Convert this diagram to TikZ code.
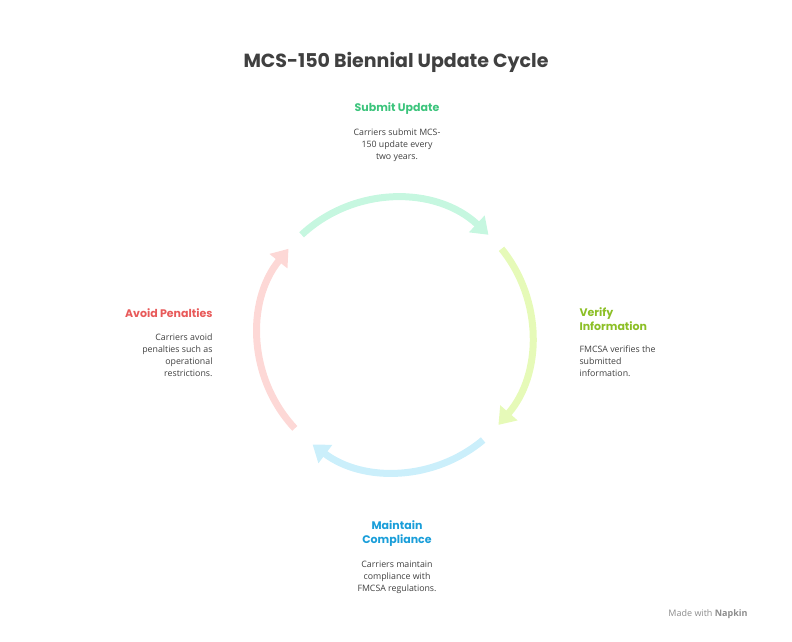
\documentclass[tikz,border=0pt]{standalone}
\usepackage{fontspec}
\setmainfont{Open Sans}
\newfontfamily\headf{Poppins}
\usetikzlibrary{arrows.meta}
\definecolor{cg}{HTML}{C6F7E0}
\definecolor{cy}{HTML}{E6FAB8}
\definecolor{cb}{HTML}{CBEFFB}
\definecolor{cp}{HTML}{FDD8D6}
\definecolor{tg}{HTML}{3CC47C}
\definecolor{ty}{HTML}{8CBF26}
\definecolor{tb}{HTML}{1A9ED9}
\definecolor{tr}{HTML}{E85A5A}
\begin{document}
\begin{tikzpicture}[x=1pt,y=-1pt,
 arc/.style={line width=7pt,-{Triangle[length=16pt,width=22pt]}},
 hd/.style={font=\headf\bfseries\fontsize{11}{14}\selectfont},
 ds/.style={font=\fontsize{8.8}{12}\selectfont,text=black!75}]
\useasboundingbox (0,0) rectangle (792,642);
\coordinate (s1) at (301.6,234.8);
\coordinate (s2) at (501.5,248.8);
\coordinate (s3) at (483.1,440.0);
\coordinate (s4) at (294.8,428.4);
\draw[arc,cg] (s1) arc[start angle=-133,end angle=-47,radius=137];
\draw[arc,cy] (s2) arc[start angle=-39,end angle=41,radius=137];
\draw[arc,cb] (s3) arc[start angle=50,end angle=127,radius=137];
\draw[arc,cp] (s4) arc[start angle=137,end angle=219,radius=137];
\node[font=\headf\bfseries\fontsize{19}{22}\selectfont,text=black!75] (t) at (396,62) {MCS-150 Biennial Update Cycle};
\node[hd,text=tg] (h1) at (397,109) {Submit Update};
\node[ds,align=center] (d1) at (397,145) {Carriers submit MCS-\\150 update every\\two years.};
\node[hd,text=ty,align=left,anchor=west] (h2) at (576,319) {Verify\\Information};
\node[ds,align=left,anchor=north west] (d2) at (576,342) {FMCSA verifies the\\submitted\\information.};
\node[hd,text=tb,align=center] (h3) at (397,534) {Maintain\\Compliance};
\node[ds,align=center] (d3) at (397,577) {Carriers maintain\\compliance with\\FMCSA regulations.};
\node[hd,text=tr,anchor=east] (h4) at (216,313) {Avoid Penalties};
\node[ds,align=right,anchor=north east] (d4) at (216,330) {Carriers avoid\\penalties such as\\operational\\restrictions.};
\node[font=\fontsize{9}{10}\selectfont,text=black!45] (m) at (708,614) {Made with \textbf{Napkin}};
\end{tikzpicture}
\end{document}
